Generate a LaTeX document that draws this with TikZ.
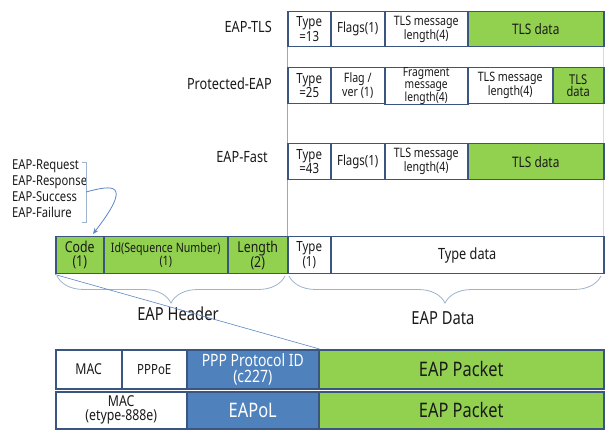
\documentclass[tikz,border=0pt]{standalone}
\usepackage{fontspec}
\setmainfont{Noto Sans}[FakeStretch=0.82]
\usetikzlibrary{decorations.pathreplacing,arrows.meta,calc}

\definecolor{bordc}{HTML}{3A5680}
\definecolor{greenc}{HTML}{92D050}
\definecolor{bluec}{HTML}{4F81BD}
\definecolor{linkc}{HTML}{5A86C5}
\definecolor{bracec}{HTML}{9FB3CC}
\definecolor{txtc}{HTML}{1A1A1A}

% font size with a tight line pitch for stacked cell captions
\newcommand{\fs}[1]{\fontsize{#1}{#1}\selectfont}
\newcommand{\fst}[2]{\fontsize{#1}{#2}\selectfont}

\tikzset{
  cell/.style={draw=bordc, line width=1.5pt, anchor=north west, inner sep=0pt,
    align=center, text=txtc, font=\fst{14}{12.5}},
  gcell/.style={cell, fill=greenc},
  bcell/.style={cell, fill=bluec, text=white},
  rowlabel/.style={anchor=east, inner sep=0pt, text=txtc, font=\fs{15.5}},
  bracelbl/.style={inner sep=0pt, text=txtc, font=\fs{18}},
  cbrace/.style={draw=bracec, line width=0.8pt,
    decorate, decoration={brace, mirror, amplitude=27pt}},
}

\begin{document}
\begin{tikzpicture}[x=1pt, y=-1pt]
\useasboundingbox (0,0) rectangle (605,430);

% guide lines joining the type-specific rows to the EAP data field
\draw[gray!70, line width=0.6pt] (287,11) -- (287,236);
\draw[gray!30, line width=0.6pt] (603,11) -- (603,236);

% EAP-TLS
\node[rowlabel] (ltls) at (272,27) {EAP-TLS};
\node[cell, minimum width=43pt, minimum height=35pt] (t1) at (287,11) {Type\\=13};
\node[cell, minimum width=54pt, minimum height=35pt] (t2) at (330,11) {Flags(1)};
\node[cell, minimum width=83pt, minimum height=35pt, font=\fst{13}{12}] (t3) at (384,11) {TLS message\\length(4)};
\node[gcell, minimum width=136pt, minimum height=35pt, font=\fs{14.5}] (t4) at (467,11) {TLS data};

% Protected-EAP
\node[rowlabel] (lpeap) at (272,84) {Protected-EAP};
\node[cell, minimum width=43pt, minimum height=36pt] (p1) at (287,67) {Type\\=25};
\node[cell, minimum width=54pt, minimum height=36pt, font=\fst{13}{12}] (p2) at (330,67) {Flag /\\ver (1)};
\node[cell, minimum width=83pt, minimum height=36pt, font=\fst{12.5}{11.5}] (p3) at (384,67) {Fragment\\message\\length(4)};
\node[cell, minimum width=85pt, minimum height=36pt, font=\fst{13}{12}] (p4) at (467,67) {TLS message\\length(4)};
\node[gcell, minimum width=51pt, minimum height=36pt, font=\fst{13.5}{12}] (p5) at (552,67) {TLS\\data};

% EAP-Fast
\node[rowlabel] (lfast) at (268,157) {EAP-Fast};
\node[cell, minimum width=43pt, minimum height=36pt] (f1) at (287,143) {Type\\=43};
\node[cell, minimum width=54pt, minimum height=36pt] (f2) at (330,143) {Flags(1)};
\node[cell, minimum width=83pt, minimum height=36pt, font=\fst{13}{12}] (f3) at (384,143) {TLS message\\length(4)};
\node[gcell, minimum width=136pt, minimum height=36pt, font=\fs{14.5}] (f4) at (467,143) {TLS data};

% EAP packet: header and data
\node[gcell, minimum width=48pt, minimum height=37pt, font=\fst{15}{14}] (code) at (55,236) {Code\\(1)};
\node[gcell, minimum width=124pt, minimum height=37pt, font=\fst{13}{13}] (id) at (103,236) {Id(Sequence Number)\\(1)};
\node[gcell, minimum width=60pt, minimum height=37pt, font=\fst{15}{14}] (len) at (227,236) {Length\\(2)};
\node[cell, minimum width=43pt, minimum height=37pt, font=\fst{14}{12.5}] (typ) at (287,236) {Type\\(1)};
\node[cell, minimum width=273pt, minimum height=37pt, font=\fs{15.5}] (tdata) at (330,236) {Type data};

% braces under header and data
\coordinate (hb1) at (57,276);
\coordinate (hb2) at (285,276);
\coordinate (db1) at (289,276);
\coordinate (db2) at (601,276);
\draw[cbrace] (hb1) -- (hb2);
\draw[cbrace] (db1) -- (db2);
\node[bracelbl] (hdr) at (178,314) {EAP Header};
\node[bracelbl] (dat) at (443,318) {EAP Data};

% code values
\node[anchor=north west, inner sep=0pt, align=left, text=txtc,
      font=\fst{13.7}{16}] (codes) at (12,159)
  {EAP-Request\\EAP-Response\\EAP-Success\\EAP-Failure};
\coordinate (bk1) at (82,162);
\coordinate (bk2) at (86,162);
\coordinate (bk3) at (86,222);
\coordinate (bk4) at (82,222);
\coordinate (bkm) at (86,192);
\draw[bracec, line width=0.8pt] (bk1) -- (bk2) -- (bk3) -- (bk4);
\coordinate (codein) at (93,234);
\draw[linkc, line width=0.8pt, -{Stealth[length=6pt,width=5pt]}]
  (bkm) .. controls (112,185) and (134,181) .. (codein);

% PPPoE framing
\node[cell, minimum width=66pt, minimum height=39pt, font=\fs{15}] (mac1) at (55,349) {MAC};
\node[cell, minimum width=65pt, minimum height=39pt, font=\fs{14}] (pppoe) at (121,349) {PPPoE};
\node[bcell, minimum width=132pt, minimum height=39pt, font=\fst{17}{16}] (pppid) at (186,349) {PPP Protocol ID\\(c227)};
\node[gcell, minimum width=285pt, minimum height=39pt, font=\fs{20}] (pkt1) at (318,349) {EAP Packet};

% EAPoL framing
\node[cell, minimum width=131pt, minimum height=37pt, font=\fst{15}{14}] (mac2) at (55,391) {MAC\\(etype-888e)};
\node[bcell, minimum width=132pt, minimum height=37pt, font=\fs{20}] (eapol) at (186,391) {EAPoL};
\node[gcell, minimum width=285pt, minimum height=37pt, font=\fs{20}] (pkt2) at (318,391) {EAP Packet};

% header expands into the framed packet
\draw[linkc, line width=0.6pt] (code.south west) -- (pppid.north east);
\end{tikzpicture}
\end{document}
